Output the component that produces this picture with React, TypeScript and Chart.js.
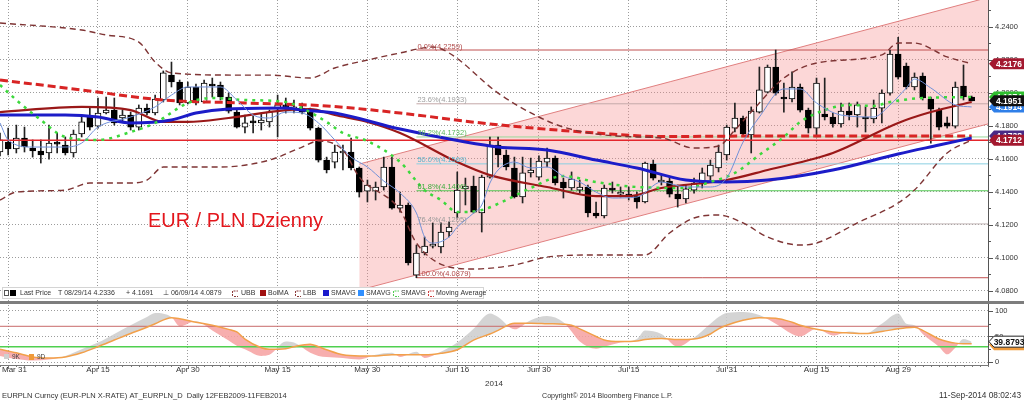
import React, { useEffect, useRef } from 'react';
import { Chart, registerables } from 'chart.js';

Chart.register(...registerables);

const FONT = '"Liberation Sans", Arial, sans-serif';
Chart.defaults.font.family = FONT;

// ---------------- data ----------------
// trading-day index 0 = 28 Mar 2014 ... 119 = 11 Sep 2014
const dateTickDays = [1, 12, 23, 34, 45, 56, 66, 77, 89, 100, 110];
const dateTickLabels = ['Mar 31', 'Apr 15', 'Apr 30', 'May 15', 'May 30', 'Jun 16', 'Jun 30', 'Jul 15', 'Jul 31', 'Aug 15', 'Aug 29'];
const yearLabel = '2014';
const priceTicks = [4.08, 4.1, 4.12, 4.14, 4.16, 4.18, 4.2, 4.22, 4.24];
const oscTicks = [0, 50, 100];

const openP = [
  4.1641, 4.1701, 4.1659, 4.1726, 4.1665, 4.1647, 4.1635, 4.1701, 4.1683, 4.1635,
  4.1750, 4.1853, 4.1798, 4.1877, 4.1895, 4.1847, 4.1865, 4.1792, 4.1907, 4.1877,
  4.1956, 4.2107, 4.2065, 4.1938, 4.2035, 4.1944, 4.2053, 4.2047, 4.1974, 4.1883,
  4.1792, 4.1823, 4.1817, 4.1823, 4.1907, 4.1926, 4.1901, 4.1907, 4.1883, 4.1786,
  4.1592, 4.1580, 4.1635, 4.1641, 4.1544, 4.1404, 4.1404, 4.1429, 4.1550, 4.1301,
  4.1320, 4.0895, 4.1029, 4.1071, 4.1065, 4.1156, 4.1271, 4.1417, 4.1435, 4.1271,
  4.1489, 4.1683, 4.1623, 4.1544, 4.1368, 4.1514, 4.1489, 4.1580, 4.1604, 4.1459,
  4.1423, 4.1410, 4.1429, 4.1271, 4.1253, 4.1423, 4.1386, 4.1386, 4.1374, 4.1338,
  4.1568, 4.1459, 4.1465, 4.1386, 4.1356, 4.1410, 4.1447, 4.1495, 4.1544, 4.1623,
  4.1786, 4.1847, 4.1744, 4.1883, 4.2004, 4.2156, 4.1974, 4.1962, 4.2035, 4.1895,
  4.1786, 4.1871, 4.1853, 4.1811, 4.1889, 4.1865, 4.1853, 4.1841, 4.1907, 4.1998,
  4.2235, 4.2162, 4.2035, 4.2101, 4.1962, 4.1895, 4.1817, 4.1798, 4.2041, 4.1974,
];
const highP = [
  4.1756, 4.1786, 4.1804, 4.1792, 4.1714, 4.1714, 4.1804, 4.1756, 4.1732, 4.1774,
  4.1865, 4.1914, 4.1968, 4.1974, 4.1968, 4.1895, 4.1883, 4.1926, 4.1932, 4.1986,
  4.2132, 4.2186, 4.2077, 4.2065, 4.2053, 4.2077, 4.2089, 4.2065, 4.1998, 4.1895,
  4.1865, 4.1859, 4.1877, 4.1895, 4.1986, 4.1968, 4.1956, 4.1938, 4.1907, 4.1792,
  4.1610, 4.1683, 4.1683, 4.1726, 4.1550, 4.1471, 4.1459, 4.1610, 4.1610, 4.1398,
  4.1332, 4.1077, 4.1126, 4.1211, 4.1211, 4.1217, 4.1520, 4.1483, 4.1495, 4.1501,
  4.1732, 4.1732, 4.1653, 4.1610, 4.1610, 4.1604, 4.1617, 4.1665, 4.1617, 4.1483,
  4.1520, 4.1471, 4.1441, 4.1338, 4.1441, 4.1459, 4.1429, 4.1429, 4.1398, 4.1580,
  4.1592, 4.1501, 4.1489, 4.1441, 4.1441, 4.1483, 4.1544, 4.1592, 4.1683, 4.1804,
  4.1938, 4.1859, 4.1914, 4.2156, 4.2168, 4.2259, 4.2059, 4.2126, 4.2053, 4.1907,
  4.2089, 4.2089, 4.1877, 4.1938, 4.1938, 4.1944, 4.1914, 4.1956, 4.2017, 4.2259,
  4.2336, 4.2180, 4.2120, 4.2120, 4.1974, 4.1907, 4.1853, 4.2065, 4.2168, 4.1980,
];
const lowP = [
  4.1617, 4.1623, 4.1635, 4.1641, 4.1610, 4.1574, 4.1598, 4.1635, 4.1623, 4.1610,
  4.1732, 4.1774, 4.1786, 4.1871, 4.1804, 4.1823, 4.1774, 4.1774, 4.1865, 4.1865,
  4.1944, 4.2035, 4.1926, 4.1932, 4.1926, 4.1938, 4.1974, 4.1956, 4.1877, 4.1786,
  4.1756, 4.1756, 4.1774, 4.1792, 4.1732, 4.1877, 4.1877, 4.1871, 4.1774, 4.1580,
  4.1514, 4.1544, 4.1532, 4.1532, 4.1368, 4.1338, 4.1350, 4.1410, 4.1295, 4.1277,
  4.0956, 4.0879, 4.1017, 4.1059, 4.1029, 4.1126, 4.1241, 4.1320, 4.1271, 4.1156,
  4.1483, 4.1550, 4.1532, 4.1362, 4.1332, 4.1489, 4.1471, 4.1550, 4.1441, 4.1362,
  4.1410, 4.1392, 4.1247, 4.1241, 4.1241, 4.1392, 4.1368, 4.1350, 4.1301, 4.1332,
  4.1471, 4.1441, 4.1368, 4.1307, 4.1332, 4.1392, 4.1423, 4.1471, 4.1520, 4.1592,
  4.1762, 4.1738, 4.1635, 4.1877, 4.1998, 4.1986, 4.1883, 4.1944, 4.1883, 4.1756,
  4.1732, 4.1835, 4.1792, 4.1792, 4.1835, 4.1792, 4.1762, 4.1817, 4.1817, 4.1986,
  4.2083, 4.2023, 4.2017, 4.1956, 4.1695, 4.1774, 4.1786, 4.1786, 4.1956, 4.1950,
];
const closeP = [
  4.1714, 4.1659, 4.1726, 4.1671, 4.1647, 4.1623, 4.1695, 4.1689, 4.1635, 4.1750,
  4.1823, 4.1792, 4.1877, 4.1895, 4.1817, 4.1865, 4.1792, 4.1907, 4.1877, 4.1962,
  4.2120, 4.2065, 4.1938, 4.2035, 4.1938, 4.2059, 4.2041, 4.1974, 4.1889, 4.1792,
  4.1817, 4.1817, 4.1835, 4.1883, 4.1926, 4.1914, 4.1914, 4.1883, 4.1786, 4.1592,
  4.1532, 4.1641, 4.1641, 4.1544, 4.1398, 4.1441, 4.1429, 4.1550, 4.1301, 4.1320,
  4.0968, 4.1029, 4.1071, 4.1077, 4.1156, 4.1186, 4.1410, 4.1435, 4.1277, 4.1489,
  4.1683, 4.1623, 4.1550, 4.1368, 4.1514, 4.1532, 4.1586, 4.1604, 4.1453, 4.1423,
  4.1477, 4.1429, 4.1271, 4.1253, 4.1423, 4.1410, 4.1398, 4.1374, 4.1338, 4.1574,
  4.1483, 4.1471, 4.1386, 4.1356, 4.1417, 4.1453, 4.1514, 4.1562, 4.1641, 4.1792,
  4.1847, 4.1750, 4.1889, 4.2017, 4.2156, 4.1998, 4.1962, 4.2035, 4.1895, 4.1786,
  4.2059, 4.1853, 4.1811, 4.1889, 4.1865, 4.1926, 4.1841, 4.1907, 4.1998, 4.2235,
  4.2095, 4.2035, 4.2095, 4.1968, 4.1901, 4.1792, 4.1798, 4.2035, 4.1974, 4.1951,
];

// studies: [trading day, value]
const ma200Pts = [[0, 4.2077], [10, 4.2017], [20, 4.1956], [30, 4.1938], [40, 4.1920], [49, 4.1877], [60, 4.1811], [73, 4.1756], [81, 4.1735], [95, 4.1738], [119, 4.1738]];
const sma50Pts = [[0, 4.1865], [8, 4.1865], [12, 4.1853], [16, 4.1817], [21, 4.1835], [24, 4.1877], [28, 4.1901], [35, 4.1907], [37, 4.1895], [41, 4.1877], [49, 4.1780], [57, 4.1701], [61, 4.1671], [67, 4.1653], [73, 4.1592], [78, 4.1544], [84, 4.1471], [89, 4.1459], [94, 4.1471], [102, 4.1532], [110, 4.1629], [115, 4.1683], [119, 4.1726]];
const bollMaPts = [[0, 4.1883], [10, 4.1914], [16, 4.1895], [20, 4.1823], [23, 4.1823], [28, 4.1847], [35, 4.1895], [38, 4.1901], [41, 4.1865], [45, 4.1823], [49, 4.1756], [56, 4.1580], [60, 4.1501], [67, 4.1429], [73, 4.1374], [77, 4.1374], [81, 4.1423], [89, 4.1471], [94, 4.1532], [102, 4.1635], [110, 4.1817], [114, 4.1883], [119, 4.1944]];
const ubbPts = [[0, 4.2423], [10, 4.2380], [13, 4.2350], [17, 4.2307], [19, 4.2186], [21, 4.2120], [29, 4.2107], [33, 4.2107], [38, 4.2089], [41, 4.2150], [45, 4.2198], [49, 4.2241], [53, 4.2277], [55, 4.2241], [61, 4.1998], [66, 4.1853], [69, 4.1792], [73, 4.1750], [78, 4.1732], [81, 4.1726], [85, 4.1665], [88, 4.1677], [90, 4.1774], [92, 4.1883], [96, 4.2089], [100, 4.2180], [108, 4.2229], [110, 4.2301], [112, 4.2301], [116, 4.2217], [119, 4.2176]];
const lbbPts = [[0, 4.1350], [2, 4.1398], [8, 4.1410], [11, 4.1453], [16, 4.1453], [18, 4.1471], [20, 4.1550], [27, 4.1550], [33, 4.1592], [37, 4.1671], [39, 4.1707], [42, 4.1653], [44, 4.1489], [49, 4.1289], [51, 4.1089], [55, 4.0944], [58, 4.0932], [63, 4.0956], [67, 4.1004], [73, 4.1017], [79, 4.1017], [82, 4.1150], [85, 4.1241], [88, 4.1259], [91, 4.1211], [94, 4.1126], [98, 4.1077], [100, 4.1089], [105, 4.1211], [110, 4.1332], [112, 4.1410], [116, 4.1635], [119, 4.1714]];
const smaGreenPts = [[0, 4.2047], [2, 4.1956], [5, 4.1835], [8, 4.1732], [12, 4.1714], [16, 4.1762], [19, 4.1817], [23, 4.1938], [26, 4.1968], [30, 4.1956], [35, 4.1944], [37, 4.1907], [40, 4.1823], [42, 4.1756], [45, 4.1707], [49, 4.1580], [52, 4.1410], [54, 4.1350], [56, 4.1277], [59, 4.1289], [62, 4.1350], [65, 4.1423], [69, 4.1495], [73, 4.1459], [78, 4.1429], [84, 4.1423], [87, 4.1459], [90, 4.1514], [93, 4.1623], [96, 4.1732], [98, 4.1823], [101, 4.1895], [104, 4.1926], [107, 4.1920], [109, 4.1944], [113, 4.1968], [119, 4.1974]];
const smaFastPts = [[0, 4.1817], [1, 4.1714], [4, 4.1671], [8, 4.1671], [10, 4.1695], [12, 4.1792], [16, 4.1853], [19, 4.1914], [21, 4.1986], [23, 4.2035], [27, 4.2035], [29, 4.1956], [31, 4.1865], [33, 4.1847], [35, 4.1883], [37, 4.1877], [39, 4.1817], [41, 4.1714], [43, 4.1610], [45, 4.1550], [47, 4.1465], [49, 4.1392], [51, 4.1271], [52, 4.1126], [53, 4.1089], [55, 4.1126], [56, 4.1186], [58, 4.1271], [59, 4.1320], [60, 4.1453], [61, 4.1532], [63, 4.1580], [65, 4.1544], [67, 4.1550], [69, 4.1495], [71, 4.1459], [73, 4.1398], [75, 4.1362], [78, 4.1368], [81, 4.1459], [84, 4.1429], [87, 4.1429], [89, 4.1483], [91, 4.1701], [93, 4.1853], [96, 4.2023], [98, 4.2023], [100, 4.1938], [103, 4.1865], [107, 4.1853], [109, 4.1926], [111, 4.2029], [112, 4.2083], [114, 4.2029], [117, 4.1926], [119, 4.1914]];

const supportLine = 4.1712;
const channelUpper = [[44, 4.1568], [121, 4.2577]];
const channelLower = [[44, 4.0804], [121, 4.1811]];
const fibStartDay = 51;
const fibPct = ['0.0%', '23.6%', '38.2%', '50.0%', '61.8%', '76.4%', '100.0%'];
const fibLevels = [4.2259, 4.1933, 4.1732, 4.1569, 4.1406, 4.1205, 4.0879];

const oscDays = [0, 2, 4, 6, 8, 10, 12, 14, 16, 18, 19, 21, 22, 24, 26, 28, 29, 30, 32, 33, 35, 36, 38, 39, 40, 42, 44, 46, 48, 49, 51, 52, 54, 56, 58, 60, 61, 63, 65, 67, 69, 70, 71, 73, 74, 76, 78, 79, 81, 83, 85, 87, 88, 89, 91, 93, 95, 97, 98, 100, 102, 104, 106, 108, 110, 111, 112, 113, 115, 116, 117, 118, 119];
const kVals = [12, 6, 3, 5, 12, 25, 38, 55, 72, 88, 96, 88, 70, 80, 62, 42, 32, 25, 12, 14, 40, 38, 18, 12, 10, 8, 5, 14, 18, 10, 20, 8, 20, 38, 65, 95, 88, 64, 82, 90, 78, 60, 40, 26, 30, 38, 45, 62, 55, 30, 48, 75, 88, 96, 98, 92, 75, 55, 50, 65, 52, 60, 56, 75, 95, 75, 72, 55, 30, 15, 28, 45, 39.8793];
const dVals = [25, 18, 10, 8, 10, 18, 30, 43, 56, 68, 75, 87, 85, 78, 72, 64, 59, 45, 28, 25, 26, 30, 35, 30, 24, 14, 12, 12, 14, 14, 14, 14, 17, 24, 43, 55, 62, 76, 76, 75, 74, 72, 65, 50, 43, 40, 41, 44, 46, 44, 45, 55, 65, 72, 82, 87, 86, 78, 72, 64, 59, 57, 56, 60, 65, 67, 68, 62, 45, 40, 37, 36, 36];
const oscUpper = 70;
const oscLower = 30;

// ---------------- helpers ----------------
const X_MIN = 0;
const X_MAX = 121;
const toPts = (arr: number[][]) => arr.map(([d, v]) => ({ x: d, y: v }));
const last = (arr: number[][]) => arr[arr.length - 1][1];

function fitFont(ctx: any, text: string, targetW: number, weight = '') {
  ctx.font = `${weight} 10px ${FONT}`;
  const w = ctx.measureText(text).width;
  ctx.font = `${weight} ${((10 * targetW) / w).toFixed(2)}px ${FONT}`;
}

function drawTag(ctx: any, y: number, bg: string, fg: string, text: string, border?: string) {
  const x0 = 989, x1 = 1024, h = 11;
  ctx.beginPath();
  ctx.moveTo(x0, y);
  ctx.lineTo(x0 + 5, y - h / 2);
  ctx.lineTo(x1, y - h / 2);
  ctx.lineTo(x1, y + h / 2);
  ctx.lineTo(x0 + 5, y + h / 2);
  ctx.closePath();
  ctx.fillStyle = bg;
  ctx.fill();
  if (border) {
    ctx.strokeStyle = border;
    ctx.lineWidth = 1;
    ctx.stroke();
  }
  ctx.fillStyle = fg;
  ctx.font = `bold 8.5px ${FONT}`;
  ctx.textAlign = 'center';
  ctx.textBaseline = 'middle';
  ctx.fillText(text, (x0 + 5 + x1) / 2, y + 0.5);
}

function lineIcon(ctx: any, x: number, color: string, dashed: boolean) {
  ctx.save();
  ctx.strokeStyle = color;
  ctx.lineWidth = 1;
  ctx.beginPath();
  ctx.moveTo(x + 0.5, 296);
  ctx.lineTo(x + 0.5, 291);
  ctx.lineTo(x + 6, 291);
  ctx.moveTo(x + 2, 296.5);
  ctx.lineTo(x + 6, 296.5);
  if (dashed) ctx.setLineDash([2, 1]);
  ctx.stroke();
  ctx.restore();
}

const mainOverlay = {
  id: 'mainOverlay',
  afterDraw(chart: any) {
    const { ctx, chartArea: ca, scales } = chart;
    const xs = scales.x;
    const ys = scales.y;
    ctx.save();

    // fibonacci labels
    const fibText = ['#b04848', '#a0a0a0', '#5cb85c', '#5ab4cc', '#3caa3c', '#999999', '#b04848'];
    ctx.font = `7.5px ${FONT}`;
    ctx.textAlign = 'left';
    ctx.textBaseline = 'alphabetic';
    fibLevels.forEach((lv, i) => {
      ctx.fillStyle = fibText[i];
      ctx.fillText(`${fibPct[i]}(${lv.toFixed(4)})`, xs.getPixelForValue(fibStartDay) + 1, ys.getPixelForValue(lv) - 1.5);
    });

    // title
    const title = 'EUR / PLN Dzienny';
    fitFont(ctx, title, 175);
    ctx.fillStyle = '#e3161c';
    ctx.fillText(title, 148, 227);

    // right axis
    ctx.strokeStyle = '#555';
    ctx.lineWidth = 1;
    ctx.beginPath();
    ctx.moveTo(ca.right + 0.5, 0);
    ctx.lineTo(ca.right + 0.5, chart.height);
    priceTicks.forEach((v) => {
      const y = Math.round(ys.getPixelForValue(v)) + 0.5;
      ctx.moveTo(ca.right, y);
      ctx.lineTo(ca.right + 5, y);
      const ym = Math.round(ys.getPixelForValue(v + 0.01)) + 0.5;
      ctx.moveTo(ca.right, ym);
      ctx.lineTo(ca.right + 3, ym);
    });
    ctx.stroke();
    ctx.font = `7.5px ${FONT}`;
    ctx.fillStyle = '#333';
    ctx.textAlign = 'left';
    ctx.textBaseline = 'middle';
    priceTicks.forEach((v) => {
      ctx.fillText(v.toFixed(4), ca.right + 7, ys.getPixelForValue(v));
    });

    // value tags
    const lastClose = closeP[closeP.length - 1];
    drawTag(ctx, ys.getPixelForValue(last(smaGreenPts)), '#2fbf2f', '#fff', last(smaGreenPts).toFixed(4));
    drawTag(ctx, ys.getPixelForValue(last(smaFastPts)), '#2f7fe8', '#fff', last(smaFastPts).toFixed(4));
    drawTag(ctx, ys.getPixelForValue(lastClose), '#111111', '#fff', lastClose.toFixed(4));
    drawTag(ctx, ys.getPixelForValue(last(ma200Pts)), '#4a2a86', '#fff', last(ma200Pts).toFixed(4));
    drawTag(ctx, ys.getPixelForValue(supportLine), '#a3182f', '#fff', supportLine.toFixed(4));
    drawTag(ctx, ys.getPixelForValue(last(ubbPts)), '#a3182f', '#fff', last(ubbPts).toFixed(4));

    // legend
    ctx.fillStyle = '#fff';
    ctx.fillRect(2, 287, 482, 12);
    ctx.strokeStyle = '#d4d4d4';
    ctx.strokeRect(2.5, 287.5, 481, 11);
    const cy = 293.5;
    ctx.strokeStyle = '#555';
    ctx.strokeRect(4.5, 290.5, 4, 5);
    ctx.fillStyle = '#000';
    ctx.fillRect(10, 290, 6, 6);
    ctx.font = `7px ${FONT}`;
    ctx.textAlign = 'left';
    ctx.textBaseline = 'middle';
    ctx.fillStyle = '#333';
    ctx.fillText('Last Price', 20, cy);
    ctx.fillText('T 08/29/14 4.2336', 58, cy);
    ctx.fillText('+ 4.1691', 126, cy);
    ctx.fillText('\u22A5 06/09/14 4.0879', 163, cy);
    lineIcon(ctx, 232, '#8b3a3a', true);
    ctx.fillText('UBB', 241, cy);
    ctx.fillStyle = '#a01010';
    ctx.fillRect(260, 290, 6, 6);
    ctx.fillStyle = '#333';
    ctx.fillText('BolMA', 268, cy);
    lineIcon(ctx, 295, '#8b3a3a', true);
    ctx.fillText('LBB', 303, cy);
    ctx.fillStyle = '#1a1acc';
    ctx.fillRect(323, 290, 6, 6);
    ctx.fillStyle = '#333';
    ctx.fillText('SMAVG', 331, cy);
    ctx.fillStyle = '#2f8fff';
    ctx.fillRect(358, 290, 6, 6);
    ctx.fillStyle = '#333';
    ctx.fillText('SMAVG', 366, cy);
    lineIcon(ctx, 393, '#55cc55', true);
    ctx.fillText('SMAVG', 401, cy);
    lineIcon(ctx, 428, '#d04040', true);
    ctx.fillText('Moving Average', 436, cy);

    ctx.restore();
  },
};

const oscOverlay = {
  id: 'oscOverlay',
  afterDraw(chart: any) {
    const { ctx, chartArea: ca, scales } = chart;
    const xs = scales.x;
    const ys = scales.y;
    ctx.save();

    // panel separator
    ctx.fillStyle = '#7d7d7d';
    ctx.fillRect(0, 0, chart.width, 3);

    // right axis
    ctx.strokeStyle = '#555';
    ctx.lineWidth = 1;
    ctx.beginPath();
    ctx.moveTo(ca.right + 0.5, 3);
    ctx.lineTo(ca.right + 0.5, ca.bottom);
    oscTicks.forEach((v) => {
      const y = Math.round(ys.getPixelForValue(v)) + 0.5;
      ctx.moveTo(ca.right, y);
      ctx.lineTo(ca.right + 5, y);
    });
    [25, 75].forEach((v) => {
      const y = Math.round(ys.getPixelForValue(v)) + 0.5;
      ctx.moveTo(ca.right, y);
      ctx.lineTo(ca.right + 3, y);
    });
    ctx.stroke();
    ctx.font = `7.5px ${FONT}`;
    ctx.fillStyle = '#333';
    ctx.textAlign = 'left';
    ctx.textBaseline = 'middle';
    oscTicks.forEach((v) => ctx.fillText(String(v), ca.right + 7, ys.getPixelForValue(v)));

    // tags
    const dLast = dVals[dVals.length - 1];
    const kLast = kVals[kVals.length - 1];
    drawTag(ctx, ys.getPixelForValue(dLast) + 1, '#f09a3a', '#fff', dLast.toFixed(4));
    drawTag(ctx, ys.getPixelForValue(kLast), '#ffffff', '#111', kLast.toFixed(4), '#222');

    // mini legend
    ctx.fillStyle = '#cfcfcf';
    ctx.fillRect(4, 53, 5, 5);
    ctx.font = `6.5px ${FONT}`;
    ctx.fillStyle = '#444';
    ctx.textAlign = 'left';
    ctx.fillText('9K', 12, 56);
    ctx.fillStyle = '#f09a3a';
    ctx.fillRect(29, 53, 5, 6);
    ctx.fillStyle = '#444';
    ctx.fillText('9D', 37, 56);

    // bottom axis with day ticks
    ctx.strokeStyle = '#777';
    ctx.beginPath();
    ctx.moveTo(0, ca.bottom + 0.5);
    ctx.lineTo(ca.right, ca.bottom + 0.5);
    for (let d = 0; d <= X_MAX; d++) {
      const x = Math.round(xs.getPixelForValue(d)) + 0.5;
      const len = dateTickDays.includes(d) ? 4 : 2;
      ctx.moveTo(x, ca.bottom);
      ctx.lineTo(x, ca.bottom + len);
    }
    ctx.stroke();

    // date labels
    ctx.font = `8px ${FONT}`;
    ctx.fillStyle = '#333';
    ctx.textAlign = 'center';
    ctx.textBaseline = 'middle';
    dateTickDays.forEach((d, i) => {
      const w = ctx.measureText(dateTickLabels[i]).width;
      const x = Math.max(xs.getPixelForValue(d), 2 + w / 2);
      ctx.fillText(dateTickLabels[i], x, 69);
    });
    ctx.fillText(yearLabel, (ca.left + ca.right) / 2, 83);

    // footer
    ctx.textAlign = 'left';
    ctx.fillStyle = '#333';
    const f1 = 'EURPLN Curncy (EUR-PLN X-RATE) AT_EURPLN_D  Daily 12FEB2009-11FEB2014';
    fitFont(ctx, f1, 285);
    ctx.fillText(f1, 2, 95);
    const f2 = 'Copyright\u00A9 2014 Bloomberg Finance L.P.';
    fitFont(ctx, f2, 131);
    ctx.fillText(f2, 542, 95);
    const f3 = '11-Sep-2014 08:02:43';
    fitFont(ctx, f3, 82);
    ctx.textAlign = 'right';
    ctx.fillText(f3, 1021, 95);

    ctx.restore();
  },
};

const gridX = {
  type: 'linear',
  min: X_MIN,
  max: X_MAX,
  offset: false,
  ticks: { display: false },
  grid: { color: '#9c9c9c', lineWidth: 1, drawTicks: false, offset: false },
  border: { display: false, dash: [1, 2] },
  afterBuildTicks: (s: any) => {
    s.ticks = dateTickDays.map((v) => ({ value: v }));
  },
  afterFit: (s: any) => {
    s.height = 0;
  },
};

export default function App() {
  const mainRef = useRef<HTMLCanvasElement>(null);
  const oscRef = useRef<HTMLCanvasElement>(null);

  useEffect(() => {
    document.body.style.margin = '0';
    const days = openP.map((_, i) => i);
    const bodyColors = days.map((i) => (closeP[i] >= openP[i] ? '#ffffff' : '#000000'));

    const line = (label: string, pts: number[][], color: string, width: number, dash: number[], order: number) => ({
      type: 'line',
      label,
      data: toPts(pts),
      borderColor: color,
      borderWidth: width,
      borderDash: dash,
      pointRadius: 0,
      fill: false,
      cubicInterpolationMode: 'monotone',
      order,
    });
    const flat = (label: string, v: number, from: number, color: string, width: number, order: number) => ({
      type: 'line',
      label,
      data: [{ x: from, y: v }, { x: X_MAX, y: v }],
      borderColor: color,
      borderWidth: width,
      pointRadius: 0,
      fill: false,
      order,
    });
    const fibColors = ['#c05050', '#c4a8a8', '#98d898', '#8ad0e2', '#55c855', '#c0b4b4', '#c05050'];

    const main = new Chart(mainRef.current as HTMLCanvasElement, {
      type: 'bar',
      data: {
        datasets: [
          {
            type: 'line',
            label: 'channelUpper',
            data: toPts(channelUpper),
            borderColor: '#e07f7f',
            borderWidth: 1,
            pointRadius: 0,
            fill: false,
            order: 30,
          },
          {
            type: 'line',
            label: 'channelLower',
            data: toPts(channelLower),
            borderColor: '#e07f7f',
            borderWidth: 1,
            pointRadius: 0,
            fill: '-1',
            backgroundColor: 'rgba(245,140,140,0.35)',
            order: 31,
          },
          ...fibLevels.map((v, i) => flat('fib' + fibPct[i], v, fibStartDay, fibColors[i], 1, 20)),
          {
            type: 'bar',
            label: 'wicks',
            data: days.map((i) => ({ x: i, y: [lowP[i], highP[i]] })),
            backgroundColor: '#222',
            barThickness: 1,
            grouped: false,
            order: 11,
          },
          {
            type: 'bar',
            label: 'bodies',
            data: days.map((i) => ({ x: i, y: [openP[i], closeP[i]] })),
            backgroundColor: bodyColors,
            borderColor: '#000',
            borderWidth: 1,
            borderSkipped: false,
            barThickness: 6,
            minBarLength: 2,
            grouped: false,
            order: 10,
          },
          flat('support', supportLine, X_MIN, '#e4262c', 1.6, 5),
          line('Moving Average', ma200Pts, '#d82424', 3, [8, 4], 4),
          line('UBB', ubbPts, '#7e3434', 1.4, [6, 4], 3),
          line('LBB', lbbPts, '#7e3434', 1.4, [6, 4], 3),
          line('BolMA', bollMaPts, '#9a1818', 2.2, [], 3),
          line('SMAVG50', sma50Pts, '#1c1cc8', 3, [], 2),
          line('SMAVG5', smaFastPts, '#7090d8', 1, [], 1),
          line('SMAVG10', smaGreenPts, '#3cd83c', 2.5, [3, 5], 1),
        ] as any,
      },
      options: {
        responsive: false,
        animation: false,
        events: [],
        layout: { padding: 0 },
        plugins: { legend: { display: false }, tooltip: { enabled: false } },
        scales: {
          x: gridX as any,
          y: {
            type: 'linear',
            position: 'right',
            min: 4.0738,
            max: 4.2562,
            ticks: { display: false },
            grid: { color: '#9c9c9c', lineWidth: 1, drawTicks: false },
            border: { display: false, dash: [1, 2] },
            afterBuildTicks: (s: any) => {
              s.ticks = priceTicks.map((v) => ({ value: v }));
            },
            afterFit: (s: any) => {
              s.width = 36;
            },
          } as any,
        },
      },
      plugins: [mainOverlay],
    });

    const oscPts = (vals: number[]) => oscDays.map((d, i) => ({ x: d, y: vals[i] }));
    const osc = new Chart(oscRef.current as HTMLCanvasElement, {
      type: 'line',
      data: {
        datasets: [
          {
            label: '9K',
            data: oscPts(kVals),
            borderColor: 'rgba(0,0,0,0)',
            borderWidth: 0,
            pointRadius: 0,
            cubicInterpolationMode: 'monotone',
            fill: { target: '+1', above: 'rgba(205,205,205,0.85)', below: 'rgba(246,160,160,0.85)' },
            order: 5,
          },
          {
            label: '9D',
            data: oscPts(dVals),
            borderColor: '#f2a04a',
            borderWidth: 1.5,
            pointRadius: 0,
            cubicInterpolationMode: 'monotone',
            fill: false,
            order: 1,
          },
          {
            label: 'upper',
            data: [{ x: X_MIN, y: oscUpper }, { x: X_MAX, y: oscUpper }],
            borderColor: '#c86a6a',
            borderWidth: 1,
            pointRadius: 0,
            fill: false,
            order: 3,
          },
          {
            label: 'lower',
            data: [{ x: X_MIN, y: oscLower }, { x: X_MAX, y: oscLower }],
            borderColor: '#4fd04f',
            borderWidth: 1.5,
            pointRadius: 0,
            fill: false,
            order: 3,
          },
        ] as any,
      },
      options: {
        responsive: false,
        animation: false,
        events: [],
        layout: { padding: { top: 4, bottom: 36, left: 0, right: 0 } },
        plugins: { legend: { display: false }, tooltip: { enabled: false } },
        scales: {
          x: gridX as any,
          y: {
            type: 'linear',
            position: 'right',
            min: -5.88,
            max: 111.76,
            ticks: { display: false },
            grid: { color: '#9c9c9c', lineWidth: 1, drawTicks: false },
            border: { display: false, dash: [1, 2] },
            afterBuildTicks: (s: any) => {
              s.ticks = oscTicks.map((v) => ({ value: v }));
            },
            afterFit: (s: any) => {
              s.width = 36;
            },
          } as any,
        },
      },
      plugins: [oscOverlay],
    });

    return () => {
      main.destroy();
      osc.destroy();
    };
  }, []);

  return (
    <div style={{ position: 'relative', width: 1024, height: 401, background: '#fff', overflow: 'hidden' }}>
      <canvas ref={mainRef} width={1024} height={301} style={{ position: 'absolute', left: 0, top: 0, width: 1024, height: 301 }} />
      <canvas ref={oscRef} width={1024} height={100} style={{ position: 'absolute', left: 0, top: 301, width: 1024, height: 100 }} />
    </div>
  );
}
